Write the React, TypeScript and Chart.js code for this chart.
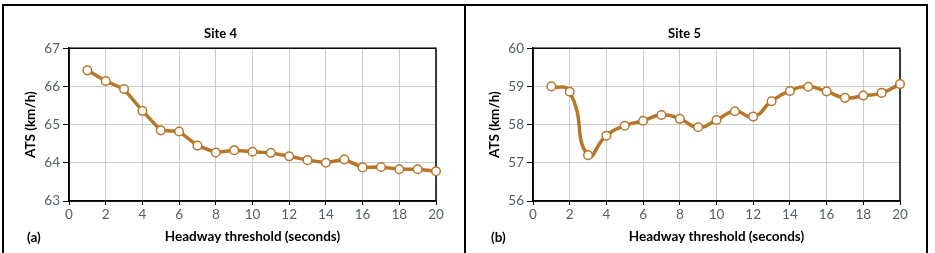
import React, { useEffect, useRef } from 'react';
import { Chart, registerables } from 'chart.js';

Chart.register(...registerables);

// ---- data ----
const headwayThresholds = [1, 2, 3, 4, 5, 6, 7, 8, 9, 10, 11, 12, 13, 14, 15, 16, 17, 18, 19, 20];
const site4ATS = [66.42, 66.14, 65.93, 65.36, 64.85, 64.82, 64.45, 64.27, 64.33, 64.29, 64.26, 64.17, 64.07, 64.0, 64.09, 63.88, 63.89, 63.83, 63.83, 63.78];
const site5ATS = [59.0, 58.86, 57.2, 57.71, 57.97, 58.1, 58.25, 58.15, 57.93, 58.12, 58.35, 58.21, 58.61, 58.88, 58.99, 58.87, 58.7, 58.76, 58.83, 59.06];
const site4YRange = [63, 67];
const site5YRange = [56, 60];
const xRange = [0, 20];
const panelTitles = ['Site 4', 'Site 5'];
const panelLetters = ['(a)', '(b)'];
const xAxisTitle = 'Headway threshold (seconds)';
const yAxisTitle = 'ATS (km/h)';

const LINE_COLOR = '#b7772a';
const FONT = "Lato, 'Open Sans', sans-serif";
const TICK_COLOR = '#56606e';

const framePlugin = {
  id: 'frame',
  beforeDatasetsDraw(chart: any) {
    const { ctx, chartArea } = chart;
    const { left, top, right, bottom } = chartArea;
    ctx.save();
    ctx.strokeStyle = '#000';
    ctx.lineWidth = 1.5;
    ctx.strokeRect(left, top, right - left, bottom - top);
    ctx.restore();
  },
};

const CW = 458;
const CH = 246;

function Panel(props: { title: string; letter: string; values: number[]; yRange: number[]; tension: number; left: number }) {
  const ref = useRef<HTMLCanvasElement>(null);
  useEffect(() => {
    if (!ref.current) return;
    const chart = new Chart(ref.current, {
      type: 'line',
      data: {
        datasets: [
          {
            data: headwayThresholds.map((x, i) => ({ x, y: props.values[i] })),
            borderColor: LINE_COLOR,
            borderWidth: 3.5,
            tension: props.tension,
            pointRadius: 4.3,
            pointBorderWidth: 1.5,
            pointBackgroundColor: '#ffffff',
            pointBorderColor: LINE_COLOR,
            clip: false as any,
          },
        ],
      },
      options: {
        animation: false,
        responsive: false,
        layout: { padding: { left: 0, right: 27, top: 0, bottom: 0 } },
        plugins: {
          legend: { display: false },
          tooltip: { enabled: false },
          title: {
            display: true,
            text: props.title,
            color: '#000',
            font: { family: FONT, size: 13, weight: 'bold' },
            padding: { top: 18.8, bottom: 6.8 },
          },
        },
        scales: {
          x: {
            type: 'linear',
            min: xRange[0],
            max: xRange[1],
            ticks: { stepSize: 2, color: TICK_COLOR, font: { family: FONT, size: 13.5 }, padding: 2, maxRotation: 0 },
            grid: { color: '#cccccc', lineWidth: 1, tickColor: '#000', tickLength: 4 },
            border: { color: '#000', width: 1.5 },
            title: {
              display: true,
              text: xAxisTitle,
              color: '#000',
              font: { family: FONT, size: 13.5, weight: 'bold' },
              padding: { top: 0, bottom: 7.9 },
            },
            afterFit(scale: any) {
              scale.height = CH - 194;
            },
          },
          y: {
            min: props.yRange[0],
            max: props.yRange[1],
            ticks: { stepSize: 1, color: TICK_COLOR, font: { family: FONT, size: 13.5 }, padding: 3 },
            grid: { color: '#cccccc', lineWidth: 1, tickColor: '#000', tickLength: 6 },
            border: { color: '#000', width: 1.5 },
            title: {
              display: true,
              text: yAxisTitle,
              color: '#000',
              font: { family: FONT, size: 13.5, weight: 'bold' },
              padding: { top: 17.5, bottom: 0 },
            },
            afterFit(scale: any) {
              scale.width = 64;
            },
          },
        },
      },
      plugins: [framePlugin],
    } as any);
    return () => chart.destroy();
  }, []);
  return (
    <>
      <canvas
        ref={ref}
        width={CW}
        height={CH}
        style={{ position: 'absolute', left: props.left, top: 7, width: CW, height: CH }}
      />
      <span
        style={{
          position: 'absolute',
          left: props.left + 22,
          top: 228,
          fontFamily: FONT,
          fontWeight: 'bold',
          fontSize: 13.5,
          color: '#000',
          lineHeight: '18px',
        }}
      >
        {props.letter}
      </span>
    </>
  );
}

export default function App() {
  return (
    <div style={{ position: 'fixed', left: 0, top: 0, width: 935, height: 253, background: '#fff', overflow: 'hidden' }}>
      <div style={{ position: 'absolute', left: 2, top: 4, width: 926, height: 300, border: '2px solid #000', boxSizing: 'border-box' }} />
      <div style={{ position: 'absolute', left: 464, top: 4, width: 2, height: 300, background: '#000' }} />
      <Panel title={panelTitles[0]} letter={panelLetters[0]} values={site4ATS} yRange={site4YRange} tension={0} left={5} />
      <Panel title={panelTitles[1]} letter={panelLetters[1]} values={site5ATS} yRange={site5YRange} tension={0.55} left={469} />
    </div>
  );
}
